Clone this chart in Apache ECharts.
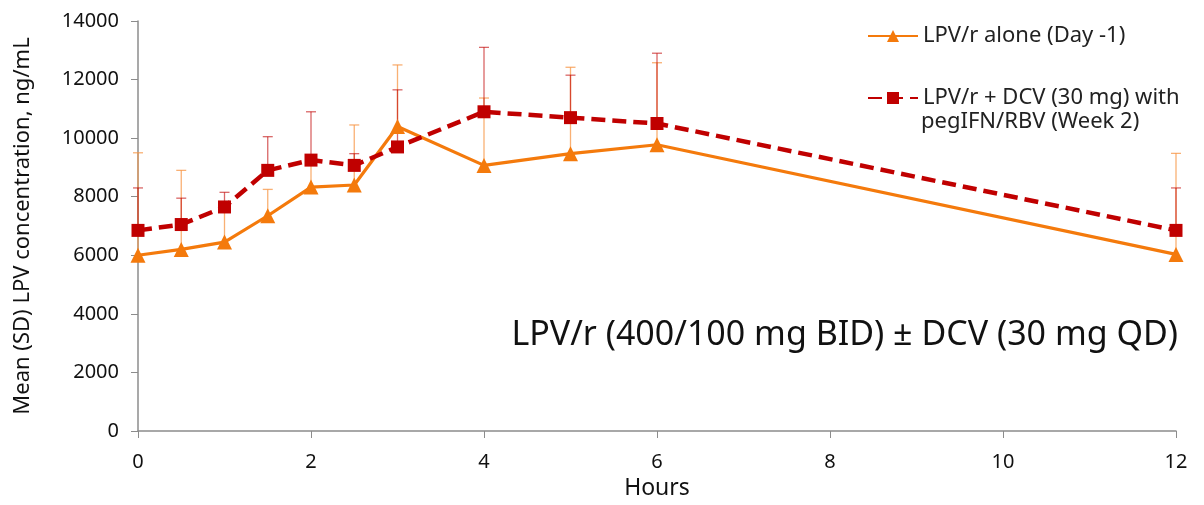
<!DOCTYPE html>
<html><head><meta charset="utf-8">
<script src="https://cdn.jsdelivr.net/npm/echarts@6/dist/echarts.min.js"></script>
<style>html,body{margin:0;padding:0;background:#fff}#c{width:1204px;height:505px}</style>
</head><body><div id="c"></div>
<script>
var hours = [0, 0.5, 1, 1.5, 2, 2.5, 3, 4, 5, 6, 12];
var aloneMean = [6000, 6200, 6450, 7350, 8330, 8400, 10400, 9070, 9470, 9775, 6030];
var aloneSD   = [3500, 2700, 1200, 900, 900, 2050, 2100, 2300, 2950, 2800, 3450];
var comboMean = [6850, 7050, 7650, 8900, 9250, 9070, 9700, 10900, 10700, 10500, 6850];
var comboSD   = [1450, 900, 500, 1150, 1650, 400, 1950, 2200, 1450, 2400, 1450];
var yTicks = [0, 2000, 4000, 6000, 8000, 10000, 12000, 14000];
var xTicks = [0, 2, 4, 6, 8, 10, 12];

var nameAlone = 'LPV/r alone (Day -1)';
var nameCombo = 'LPV/r + DCV (30 mg) with';
var FONT = 'Noto Sans';

function errData(mean, sd) {
  return hours.map(function (h, i) { return [h, mean[i], mean[i] + sd[i]]; });
}
function errRender(color) {
  return function (params, api) {
    var lo = api.coord([api.value(0), api.value(1)]);
    var hi = api.coord([api.value(0), api.value(2)]);
    var w = 5;
    return {
      type: 'group',
      children: [
        {type: 'line', shape: {x1: lo[0], y1: lo[1], x2: hi[0], y2: hi[1]}, style: {stroke: color, lineWidth: 1.3}},
        {type: 'line', shape: {x1: hi[0] - w, y1: hi[1], x2: hi[0] + w, y2: hi[1]}, style: {stroke: color, lineWidth: 1.3}}
      ]
    };
  };
}

var chart = echarts.init(document.getElementById('c'), null, {renderer: 'canvas'});
chart.setOption({
  animation: false,
  grid: {left: 138, right: 28, top: 21, bottom: 73},
  legend: {
    orient: 'vertical', left: 862, top: 20, itemGap: 40,
    itemWidth: 50, itemHeight: 15,
    textStyle: {fontFamily: FONT, fontSize: 22, color: '#222'},
    data: [nameAlone, nameCombo]
  },
  xAxis: {
    type: 'value', min: 0, max: 12, interval: 2,
    name: 'Hours', nameLocation: 'middle', nameGap: 46,
    nameTextStyle: {fontFamily: FONT, fontSize: 23, color: '#111'},
    axisLine: {show: true, lineStyle: {color: '#8c8c8c', width: 1.5}},
    axisTick: {show: true, length: 7, lineStyle: {color: '#8c8c8c'}},
    axisLabel: {fontFamily: FONT, fontSize: 20, color: '#111', margin: 21,
      formatter: function (v) { return xTicks.indexOf(v) >= 0 ? String(v) : ''; }},
    splitLine: {show: false}
  },
  yAxis: {
    type: 'value', min: 0, max: 14000, interval: 2000,
    name: 'Mean (SD) LPV concentration, ng/mL', nameLocation: 'middle', nameGap: 104,
    nameTextStyle: {fontFamily: FONT, fontSize: 22, color: '#111'},
    axisLine: {show: true, lineStyle: {color: '#8c8c8c', width: 1.5}},
    axisTick: {show: true, length: 7, lineStyle: {color: '#8c8c8c'}},
    axisLabel: {fontFamily: FONT, fontSize: 20, color: '#111', margin: 19,
      formatter: function (v) { return yTicks.indexOf(v) >= 0 ? String(v) : ''; }},
    splitLine: {show: false}
  },
  graphic: [
    {type: 'text', left: 921, top: 111, style: {text: 'pegIFN/RBV (Week 2)', font: '22px "Noto Sans"', fill: '#222'}},
    {type: 'text', right: 26, top: 318, style: {text: 'LPV/r (400/100 mg BID) \u00b1 DCV (30 mg QD)', font: '34px "Noto Sans"', fill: '#111'}}
  ],
  series: [
    {type: 'custom', renderItem: errRender('rgba(247,150,70,0.75)'), data: errData(aloneMean, aloneSD), z: 1, silent: true, encode: {x: 0, y: [1, 2]}},
    {type: 'custom', renderItem: errRender('rgba(192,0,0,0.6)'), data: errData(comboMean, comboSD), z: 1, silent: true, encode: {x: 0, y: [1, 2]}},
    {
      name: nameAlone, type: 'line', z: 3,
      data: hours.map(function (h, i) { return [h, aloneMean[i]]; }),
      lineStyle: {color: '#F47A0C', width: 3.2},
      itemStyle: {color: '#F47A0C'},
      symbol: 'triangle', symbolSize: 15, showAllSymbol: true
    },
    {
      name: nameCombo, type: 'line', z: 4,
      data: hours.map(function (h, i) { return [h, comboMean[i]]; }),
      lineStyle: {color: '#C00000', width: 4.5, type: [14, 7]},
      itemStyle: {color: '#C00000'},
      symbol: 'rect', symbolSize: 13, showAllSymbol: true
    }
  ]
});
</script></body></html>
